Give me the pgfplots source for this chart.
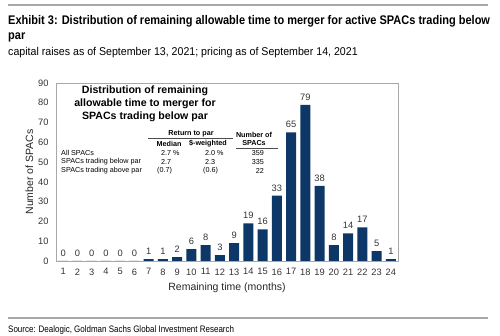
\documentclass[border=0pt]{standalone}
\usepackage{pgfplots}
\pgfplotsset{compat=1.18}
\usepackage{fontspec}
\setmainfont{Liberation Sans}
\newfontfamily\condfont[FakeStretch=0.88]{Liberation Sans}
\newfontfamily\subfont[FakeStretch=0.94]{Liberation Sans}
\newfontfamily\srcfont[FakeStretch=0.85]{Liberation Sans}
\definecolor{bar}{HTML}{0D3766}
\definecolor{rule}{HTML}{A8A8A8}
\begin{document}
\begin{tikzpicture}
\path (0pt,0pt) rectangle (500pt,-336pt);
\draw[rule,line width=1.5pt] (8pt,-5pt) -- (488pt,-5pt);
\draw[rule,line width=1.2pt] (8pt,-318pt) -- (488pt,-318pt);
\node[anchor=base west,inner sep=0pt,font=\condfont\bfseries\fontsize{12.5}{14}\selectfont] at (8pt,-25pt) {Exhibit 3: Distribution of remaining allowable time to merger for active SPACs trading below};
\node[anchor=base west,inner sep=0pt,font=\condfont\bfseries\fontsize{12.5}{14}\selectfont] at (8pt,-40pt) {par};
\node[anchor=base west,inner sep=0pt,font=\subfont\fontsize{11.3}{13}\selectfont] at (8pt,-56pt) {capital raises as of September 13, 2021; pricing as of September 14, 2021};
\node[anchor=base west,inner sep=0pt,font=\srcfont\fontsize{9.4}{11}\selectfont] at (8pt,-332pt) {Source: Dealogic, Goldman Sachs Global Investment Research};
\begin{axis}[
  at={(56pt,-261pt)}, anchor=south west,
  width=342pt, height=178pt, scale only axis,
  xmin=0.5, xmax=24.5, ymin=0, ymax=90,
  xtick={1,...,24}, ytick={0,10,...,90},
  major tick length=0pt,
  axis line style={rule},
  tick label style={font=\fontsize{9.3}{10}\selectfont, text=black!80},
  /pgf/number format/assume math mode=true,
  xticklabel style={yshift=-4pt},
  yticklabel style={xshift=-4pt},
  xlabel={Remaining time (months)},
  ylabel={Number of SPACs},
  label style={font=\fontsize{10.5}{12}\selectfont, text=black!85},
  xlabel style={yshift=-1pt},
  ylabel style={yshift=-2pt},
  ybar, bar width=10pt,
  nodes near coords,
  nodes near coords style={font=\fontsize{9.3}{10}\selectfont, text=black!80, yshift=1pt},
  clip=false,
]
\addplot[fill=bar, draw=none] coordinates {
(1,0) (2,0) (3,0) (4,0) (5,0) (6,0) (7,1) (8,1) (9,2) (10,6) (11,8) (12,3)
(13,9) (14,19) (15,16) (16,33) (17,65) (18,79) (19,38) (20,8) (21,14) (22,17) (23,5) (24,1)};
\end{axis}
\node[align=center,font=\bfseries\fontsize{10.6}{13}\selectfont] at (145pt,-103.5pt) {Distribution of remaining\\allowable time to merger for\\SPACs trading below par};
\begin{scope}[font=\fontsize{7.2}{8}\selectfont]
\node[font=\bfseries\fontsize{7.2}{8}\selectfont] at (191pt,-134pt) {Return to par};
\draw[black!70,line width=0.4pt] (148pt,-138.5pt) -- (233pt,-138.5pt);
\node[font=\bfseries\fontsize{7.2}{8}\selectfont,align=center] at (254pt,-139pt) {Number of\\SPACs};
\draw[black!70,line width=0.4pt] (236pt,-148.5pt) -- (278pt,-148.5pt);
\node[font=\bfseries\fontsize{7.2}{8}\selectfont] at (169pt,-144pt) {Median};
\node[font=\bfseries\fontsize{7.2}{8}\selectfont] at (208pt,-144pt) {\$-weighted};
\node[anchor=west,inner sep=0pt] at (61pt,-153pt) {All SPACs};
\node[anchor=west,inner sep=0pt] at (61pt,-162pt) {SPACs trading below par};
\node[anchor=west,inner sep=0pt] at (61pt,-171pt) {SPACs trading above par};
\node[anchor=west,inner sep=0pt] at (161pt,-153pt) {2.7 \%};
\node[anchor=west,inner sep=0pt] at (161pt,-162pt) {2.7};
\node[anchor=west,inner sep=0pt] at (157pt,-171pt) {(0.7)};
\node[anchor=west,inner sep=0pt] at (205pt,-153pt) {2.0 \%};
\node[anchor=west,inner sep=0pt] at (205pt,-162pt) {2.3};
\node[anchor=west,inner sep=0pt] at (203pt,-171pt) {(0.6)};
\node[anchor=east,inner sep=0pt] at (264pt,-153pt) {359};
\node[anchor=east,inner sep=0pt] at (264pt,-162pt) {335};
\node[anchor=east,inner sep=0pt] at (264pt,-171pt) {22};
\end{scope}
\end{tikzpicture}
\end{document}
